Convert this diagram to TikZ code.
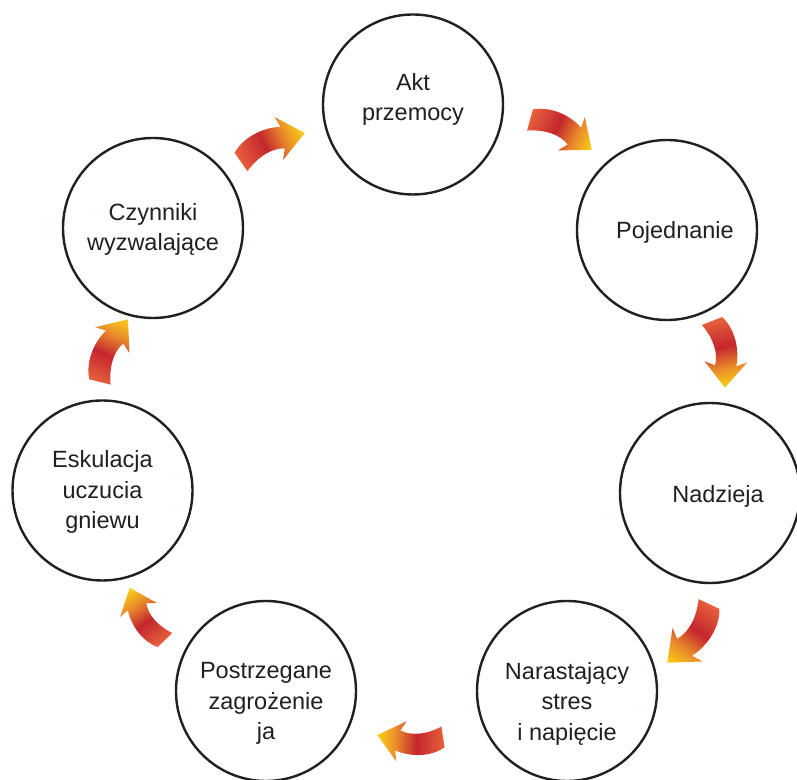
\documentclass[tikz,border=0pt]{standalone}
\usepackage{fontspec}
\setmainfont{Liberation Sans}
\definecolor{ink}{HTML}{231F20}
\definecolor{atail}{HTML}{E8633C}
\definecolor{amid}{HTML}{C4262E}
\definecolor{aorange}{HTML}{E98A2A}
\definecolor{atip}{HTML}{F9D217}
\pgfdeclarehorizontalshading{arrowshade}{100bp}{color(0bp)=(atail); color(25bp)=(atail); color(46bp)=(amid); color(61bp)=(aorange); color(75bp)=(atip); color(100bp)=(atip)}
\newcommand{\cyclearrowpath}{(-2,11) .. controls (12,21.5) and (34,22.5) .. (50.5,15.7) -- (49,27.3) -- (70,0) -- (39.2,-15.5) -- (45.5,-5.7) .. controls (34,0) and (18,-2) .. (2,-11) -- cycle}
\begin{document}
\begin{tikzpicture}[x=1pt,y=1pt,
  circ/.style={circle, draw=ink, line width=2.4pt, minimum size=180pt, inner sep=0pt},
  lbl/.style={anchor=center, inner sep=0pt, align=center, text=ink, font=\fontsize{23.5}{30.5}\selectfont},
  cyclearrow/.style={shading=arrowshade}]
\useasboundingbox (0,0) rectangle (797,779);
\clip (0,0) rectangle (797,779);
\fill[white] (0,0) rectangle (797,779);
% circles
\node[circ] (c1) at (413,674.5) {};
\node[circ] (c2) at (667,549) {};
\node[circ] (c3) at (710,286) {};
\node[circ] (c4) at (567,88) {};
\node[circ] (c5) at (266,88) {};
\node[circ] (c6) at (102.5,288.5) {};
\node[circ] (c7) at (153,551) {};
% labels
\node[lbl, yshift=5pt] (t1) at (c1.center) {Akt\\przemocy};
\node[lbl, xshift=8pt, yshift=-2pt] (t2) at (c2.center) {Pojednanie};
\node[lbl, xshift=8pt, yshift=-3pt] (t3) at (c3.center) {Nadzieja};
\node[lbl, yshift=-12.5pt] (t4) at (c4.center) {Narastający\\stres\\i napięcie};
\node[lbl, yshift=-12.5pt] (t5) at (c5.center) {Postrzegane\\zagrożenie\\ja};
\node[lbl, yshift=-1.5pt] (t6) at (c6.center) {Eskulacja\\uczucia\\gniewu};
\node[lbl, yshift=-1.5pt] (t7) at (c7.center) {Czynniki\\wyzwalające};
% arrow anchors (tail centres)
\coordinate (a1) at (241,617);
\coordinate (a2) at (530,659);
\coordinate (a3) at (712,458);
\coordinate (a4) at (709,175);
\coordinate (a5) at (443,42);
\coordinate (a6) at (165,139);
\coordinate (a7) at (100,397);
\begin{scope}[transform canvas={shift={(a1)},rotate=24.4}]
  \shade[cyclearrow] \cyclearrowpath;
\end{scope}
\begin{scope}[transform canvas={shift={(a2)},rotate=-25.8,scale=0.98}]
  \shade[cyclearrow] \cyclearrowpath;
\end{scope}
\begin{scope}[transform canvas={shift={(a3)},rotate=-79,scale=0.97}]
  \shade[cyclearrow] \cyclearrowpath;
\end{scope}
\begin{scope}[transform canvas={shift={(a4)},rotate=234.6,scale=1.03}]
  \shade[cyclearrow] \cyclearrowpath;
\end{scope}
\begin{scope}[transform canvas={shift={(a5)},rotate=178.3,scale=0.94}]
  \shade[cyclearrow] \cyclearrowpath;
\end{scope}
\begin{scope}[transform canvas={shift={(a6)},rotate=124,scale=0.9}]
  \shade[cyclearrow] \cyclearrowpath;
\end{scope}
\begin{scope}[transform canvas={shift={(a7)},rotate=66,scale=0.98}]
  \shade[cyclearrow] \cyclearrowpath;
\end{scope}
\end{tikzpicture}
\end{document}
